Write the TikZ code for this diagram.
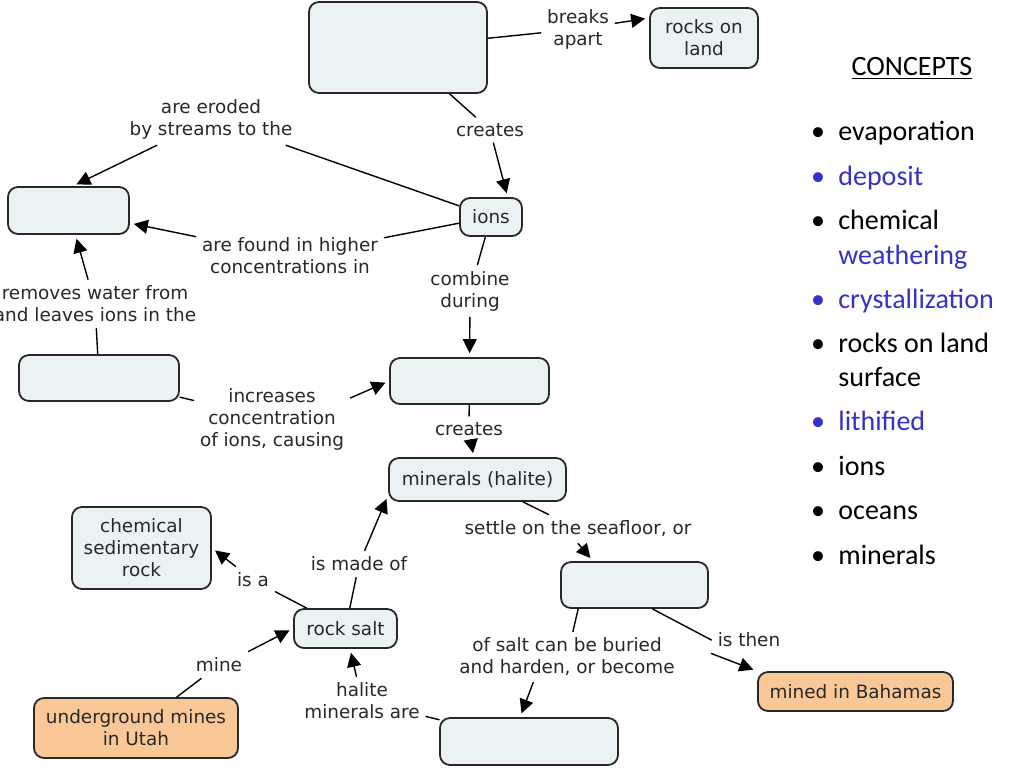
\documentclass[tikz,border=0pt]{standalone}
\usepackage{fontspec}
\setmainfont{DejaVu Sans}
\newfontfamily\listfont{Carlito}
\usetikzlibrary{arrows.meta}
\definecolor{boxfill}{RGB}{235,242,243}
\definecolor{minefill}{RGB}{250,200,150}
\definecolor{listblue}{RGB}{51,51,204}
\definecolor{inkgray}{RGB}{40,40,40}
\tikzset{
  concept/.style={draw=inkgray,line width=0.9pt,rounded corners=5pt,fill=boxfill,
    align=center,text=inkgray,font=\fontsize{9.2}{11}\selectfont,inner sep=2pt},
  minebox/.style={concept,fill=minefill},
  linkph/.style={align=center,text=inkgray,font=\fontsize{9.2}{11}\selectfont,inner sep=3pt},
  link/.style={line width=0.7pt,draw=black},
  linkarr/.style={link,-{Triangle[length=7pt,width=7pt]},shorten >=2pt},
  listitem/.style={anchor=base west,inner sep=0pt,font=\listfont\fontsize{14}{17}\selectfont},
  listdot/.style={anchor=base,inner sep=0pt,font=\listfont\fontsize{14}{17}\selectfont},
}
\begin{document}
\begin{tikzpicture}[x=0.5pt,y=-0.5pt,line cap=round,line join=round]
  \fill[white] (0,0) rectangle (1024,768);
  \useasboundingbox (0,0) rectangle (1024,768);
  \node[concept,minimum width=89pt,minimum height=45.5pt] (weath) at (398,47.5) {};
  \node[concept,minimum width=54pt,minimum height=30pt] (rocks) at (704,38) {rocks on\\land};
  \node[concept,minimum width=31pt,minimum height=19pt] (ions) at (491,217) {ions};
  \node[concept,minimum width=60.5pt,minimum height=23.5pt] (oceans) at (68.5,210.5) {};
  \node[concept,minimum width=80pt,minimum height=23pt] (evap) at (99,378) {};
  \node[concept,minimum width=79.5pt,minimum height=23pt] (cryst) at (469.5,381) {};
  \node[concept,minimum width=88.5pt,minimum height=21.5pt] (minerals) at (477.5,479.5) {minerals (halite)};
  \node[concept,minimum width=69.5pt,minimum height=41pt] (chem) at (141.5,548) {chemical\\sedimentary\\rock};
  \node[concept,minimum width=51.5pt,minimum height=19.5pt] (rocksalt) at (345.5,628.5) {rock salt};
  \node[concept,minimum width=73.5pt,minimum height=23pt] (deposit) at (634.5,585) {};
  \node[minebox,minimum width=97.5pt,minimum height=19.5pt] (bahamas) at (855.5,691.5) {mined in Bahamas};
  \node[minebox,minimum width=102pt,minimum height=30pt] (utah) at (136,728) {underground mines\\in Utah};
  \node[concept,minimum width=89pt,minimum height=23.5pt] (lith) at (529,741.5) {};

  \node[linkph] (lbreaks) at (578,29) {breaks\\apart};
  \node[linkph] (lcreatesA) at (490,130) {creates};
  \node[linkph] (leroded) at (211,119) {are eroded\\by streams to the};
  \node[linkph] (lfound) at (290,256) {are found in higher\\concentrations in};
  \node[linkph] (lcombine) at (470,291) {combine\\during};
  \node[linkph] (lremoves) at (95,304) {removes water from\\and leaves ions in the};
  \node[linkph] (lincrease) at (272,419) {increases\\concentration\\of ions, causing};
  \node[linkph] (lcreatesB) at (469,429) {creates};
  \node[linkph] (lsettle) at (578,529) {settle on the seafloor, or};
  \node[linkph] (lmade) at (359,564) {is made of};
  \node[linkph] (lisa) at (253,580) {is a};
  \node[linkph] (lmine) at (219,665) {mine};
  \node[linkph] (lhalite) at (362,701) {halite\\minerals are};
  \node[linkph] (lburied) at (567,657) {of salt can be buried\\and harden, or become};
  \node[linkph] (lthen) at (749,640) {is then};

  \draw[link] (weath) -- (lbreaks);
  \draw[linkarr] (lbreaks) -- (rocks.160);
  \draw[link] (weath) -- (lcreatesA);
  \draw[linkarr] (lcreatesA) -- (ions.50);
  \draw[link] (ions) -- (leroded);
  \draw[linkarr] (leroded) -- (oceans.80);
  \draw[link] (ions) -- (lfound);
  \draw[linkarr] (lfound) -- (oceans);
  \draw[link] (ions) -- (lcombine);
  \draw[linkarr] (lcombine) -- (cryst);
  \draw[link] (evap) -- (lremoves);
  \draw[linkarr] (lremoves) -- (oceans);
  \draw[link] (evap) -- (lincrease);
  \draw[linkarr] (lincrease.15) -- (cryst.west);
  \draw[link] (cryst) -- (lcreatesB);
  \draw[linkarr] (lcreatesB) -- (minerals);
  \draw[link] (minerals) -- (lsettle);
  \draw[linkarr] (lsettle.south) -- (deposit.150);
  \draw[link] (deposit.-157) -- (lburied);
  \draw[linkarr] (lburied.-143) -- (lith.110);
  \draw[link] (deposit.-53) -- (lthen.west);
  \draw[linkarr] (lthen.south west) -- (bahamas.north west);
  \draw[link] (lith) -- (lhalite);
  \draw[linkarr] (lhalite) -- (rocksalt);
  \draw[link] (utah) -- (lmine);
  \draw[linkarr] (lmine.north east) -- (rocksalt.west);
  \draw[link] (rocksalt) -- (lisa);
  \draw[linkarr] (lisa) -- (chem.east);
  \draw[link] (rocksalt) -- (lmade);
  \draw[linkarr] (lmade) -- (minerals.190);

  \node[anchor=base,font=\listfont\fontsize{14}{17}\selectfont] (head) at (912,75) {\underline{CONCEPTS}};
  \node[listdot] (d1) at (818,140) {\textbullet};
  \node[listitem] (t1) at (838,140) {evaporation};
  \node[listdot,text=listblue] (d2) at (818,185) {\textbullet};
  \node[listitem,text=listblue] (t2) at (838,185) {deposit};
  \node[listdot] (d3) at (818,229) {\textbullet};
  \node[listitem] (t3) at (838,229) {chemical};
  \node[listitem,text=listblue] (t3b) at (838,264) {weathering};
  \node[listdot,text=listblue] (d4) at (818,308) {\textbullet};
  \node[listitem,text=listblue] (t4) at (838,308) {crystallization};
  \node[listdot] (d5) at (818,352) {\textbullet};
  \node[listitem] (t5) at (838,352) {rocks on land};
  \node[listitem] (t5b) at (838,386) {surface};
  \node[listdot,text=listblue] (d6) at (818,430) {\textbullet};
  \node[listitem,text=listblue] (t6) at (838,430) {lithified};
  \node[listdot] (d7) at (818,475) {\textbullet};
  \node[listitem] (t7) at (838,475) {ions};
  \node[listdot] (d8) at (818,519) {\textbullet};
  \node[listitem] (t8) at (838,519) {oceans};
  \node[listdot] (d9) at (818,564) {\textbullet};
  \node[listitem] (t9) at (838,564) {minerals};
\end{tikzpicture}
\end{document}
